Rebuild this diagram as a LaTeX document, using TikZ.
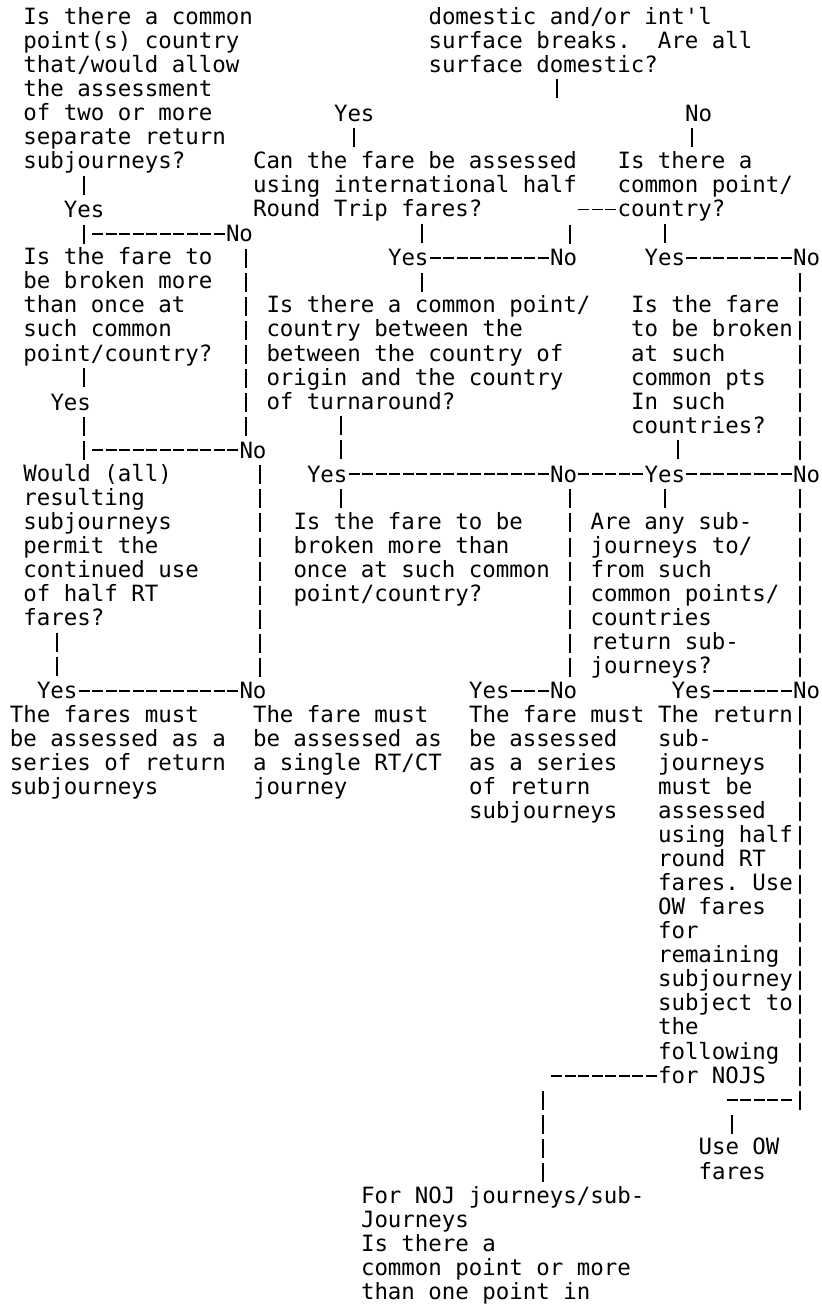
\documentclass[tikz,border=0pt]{standalone}
\usepackage{fontspec}
\newfontfamily\mono{DejaVu Sans Mono}
\usepackage{tikz}

\tikzset{
  txt/.style={anchor=north west, yshift=9pt, inner sep=0pt, outer sep=0pt, align=left,
    font=\mono\fontsize{11.21pt}{12.035pt}\selectfont\frenchspacing,
    execute at begin node={\rule{0pt}{9pt}},
    execute at end node={\rule[-3pt]{0pt}{3pt}}},
  vbar/.style={line width=.9pt, dash pattern=on 9.5pt off 2.535pt, dash phase=11.5pt},
  hbar/.style={line width=.9pt, dash pattern=on 5.6pt off 1.15pt, dash phase=6.175pt}
}

\begin{document}
\begin{tikzpicture}[x=6.75pt, y=-12.035pt]
  \path[use as bounding box, fill=white] (-5pt,12.5pt) rectangle (405.5pt,-640.5pt);

  % columns of the bars
  \foreach \c in {3,5,17,18,24,25,30,39,40,41,48,49,50,53,58}
    \coordinate (c\c) at (\c+.5,0);

  % questions
  \node[txt] (q1) at (1,0) {Is there a common\\point(s) country\\that/would allow\\the assessment\\of two or more\\separate return\\subjourneys?};
  \node[txt] (q0) at (31,0) {domestic and/or int'l\\surface breaks.\ \ Are all\\surface domestic?};
  \node[txt] (q3) at (18,6) {Can the fare be assessed\\using international half\\Round Trip fares?};
  \node[txt] (q4) at (45,6) {Is there a\\common point/\\country?};
  \node[txt] (q2) at (1,10) {Is the fare to\\be broken more\\than once at\\such common\\point/country?};
  \node[txt] (q5) at (19,12) {Is there a common point/\\country between the\\between the country of\\origin and the country\\of turnaround?};
  \node[txt] (q6) at (46,12) {Is the fare\\to be broken\\at such\\common pts\\In such\\countries?};
  \node[txt] (q9) at (1,19) {Would (all)\\resulting\\subjourneys\\permit the\\continued use\\of half RT\\fares?};
  \node[txt] (q7) at (21,21) {Is the fare to be\\broken more than\\once at such common\\point/country?};
  \node[txt] (q8) at (43,21) {Are any sub-\\journeys to/\\from such\\common points/\\countries\\return sub-\\journeys?};
  \node[txt] (q10) at (26,49) {For NOJ journeys/sub-\\Journeys\\Is there a\\common point or more\\than one point in};

  % results
  \node[txt] (r1) at (0,29) {The fares must\\be assessed as a\\series of return\\subjourneys};
  \node[txt] (r2) at (18,29) {The fare must\\be assessed as\\a single RT/CT\\journey};
  \node[txt] (r3) at (34,29) {The fare must\\be assessed\\as a series\\of return\\subjourneys};
  \node[txt] (r4) at (48,29) {The return\\sub-\\journeys\\must be\\assessed\\using half\\round RT\\fares. Use\\OW fares\\for\\remaining\\subjourney\\subject to\\the\\following\\for NOJS};
  \node[txt] (r5) at (51,47) {Use OW\\fares};

  % Yes / No
  \node[txt] (y0) at (24,4) {Yes};
  \node[txt] (n0) at (50,4) {No};
  \node[txt] (y1) at (4,8) {Yes};
  \node[txt] (n1) at (16,9) {No};
  \node[txt] (y2) at (28,10) {Yes};
  \node[txt] (n2) at (40,10) {No};
  \node[txt] (y3) at (47,10) {Yes};
  \node[txt] (n3) at (58,10) {No};
  \node[txt] (y4) at (3,16) {Yes};
  \node[txt] (n4) at (17,18) {No};
  \node[txt] (y5) at (22,19) {Yes};
  \node[txt] (n5) at (40,19) {No};
  \node[txt] (y6) at (47,19) {Yes};
  \node[txt] (n6) at (58,19) {No};
  \node[txt] (y7) at (2,28) {Yes};
  \node[txt] (n7) at (17,28) {No};
  \node[txt] (y8) at (34,28) {Yes};
  \node[txt] (n8) at (40,28) {No};
  \node[txt] (y9) at (49,28) {Yes};
  \node[txt] (n9) at (58,28) {No};

  % free ends of the lines
  \coordinate (j0) at (40.5,3.2);
  \coordinate (j1) at (41.5,8.2493);
  \coordinate (j2) at (39.5,44.2493);
  \coordinate (j3) at (58.5,45.2);
  \coordinate (j4) at (53.5,45.2493);
  \coordinate (h1) at (42,7.6676);
  \coordinate (h2) at (6,8.6676);
  \coordinate (h3) at (6,17.6676);
  \coordinate (h4) at (40,43.6676);
  \coordinate (h5) at (53,44.6676);
  \coordinate (h6) at (58,44.6676);

  % vertical lines
  \foreach \a/\b/\c in {y0/q3/25, n0/q4/50, q1/y1/5, y1/q2/5, q3/y2/30, q4/y3/48,
      n1/n4/17, y2/q5/30, n3/n6/58, q2/y4/5, y4/q9/5, q5/y5/24, q6/y6/49,
      n4/n7/18, y5/q7/24, n5/n8/41, y6/q8/48, n6/n9/58, q9/y7/3}
    \draw[vbar] (\a.south -| c\c) -- (\b.north -| c\c);
  \draw[vbar] (q0.south -| c40) -- (j0);
  \draw[vbar] (j1) -- (n2.north -| c41);
  \draw[vbar] (n9.south -| c58) -- (j3);
  \draw[vbar] (j2) -- (q10.north -| c39);
  \draw[vbar] (j4) -- (r5.north -| c53);

  % horizontal lines
  \foreach \a/\b in {y2/n2, y3/n3, y5/n5, n5/y6, y6/n6, y7/n7, y8/n8, y9/n9}
    \draw[hbar] ([yshift=4pt]\a.base east) -- ([yshift=4pt]\b.base west);
  \draw[hbar] (h1) -- (h1 -| q4.west);
  \draw[hbar] (h2) -- (h2 -| n1.west);
  \draw[hbar] (h3) -- (h3 -| n4.west);
  \draw[hbar] (h4) -- (h4 -| r4.west);
  \draw[hbar] (h5) -- (h6);
\end{tikzpicture}
\end{document}
